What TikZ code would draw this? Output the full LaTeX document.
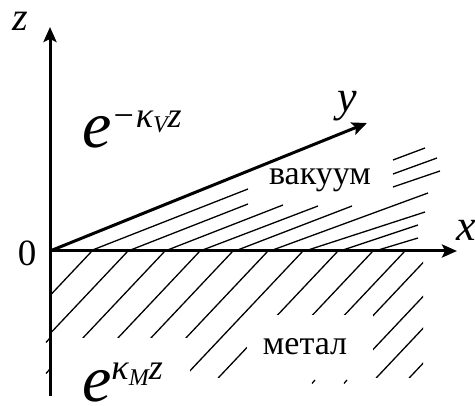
\documentclass[tikz,border=0pt]{standalone}
\usepackage{fontspec}
\setmainfont{Liberation Serif}
\usetikzlibrary{arrows.meta}
\begin{document}
\begin{tikzpicture}[x=1pt,y=-1pt,
  axis/.style={line width=3pt,-{Stealth[length=15pt,width=13pt,inset=3pt]}},
  hatch/.style={line width=1.3pt},
  lbl/.style={inner sep=0pt,font=\fontsize{34}{34}\selectfont},
  ilbl/.style={inner sep=0pt,font=\fontsize{44}{44}\selectfont\itshape}]
\useasboundingbox (0,0) rectangle (475,406);
% lower hatching (metal)
\begin{scope}
  \clip (50,251) rectangle (423,378);
  \foreach \a in {92,128,165,200,233,268,303,338,373,405,434,466,496,529}
    \draw[hatch] (\a,251) -- ++(-170,180.2);
\end{scope}
\fill[white] (51.5,338) rectangle (190,406);
\fill[white] (247,315) rectangle (373,378.5);
\draw[hatch] (50,338) -- (46,342.5);
\draw[hatch] (50,369) -- (46,373.5);
\draw[hatch] (315,380) -- (312,383.5);
\draw[hatch] (347,380) -- (344,383.5);
% upper hatching (vacuum)
\draw[hatch] (90,251) -- (248,189);
\draw[hatch] (128,251) -- (248,204);
\draw[hatch] (165,251) -- (283,205);
\draw[hatch] (393,160) -- (425,148);
\draw[hatch] (200,251) -- (318,206);
\draw[hatch] (393,174) -- (437,158);
\draw[hatch] (235,251) -- (352,206);
\draw[hatch] (393,187) -- (440,171);
\draw[hatch] (270,251) -- (428,193);
\draw[hatch] (305,251) -- (425,212);
\draw[hatch] (340,251) -- (418,225);
\draw[hatch] (375,251) -- (418,238);
% axes
\coordinate (O) at (50,251);
\coordinate (zb) at (50,396);
\coordinate (zt) at (50,27);
\coordinate (xt) at (457,251);
\coordinate (yt) at (367,123);
\draw[axis] (zb) -- (zt);
\draw[axis] (O) -- (xt);
\draw[axis] (O) -- (yt);
% labels
\node[ilbl,font=\fontsize{40}{40}\selectfont\itshape] (zl) at (20,21) {z};
\node[ilbl] (yl) at (347,106) {y};
\node[ilbl] (xl) at (466,230) {x};
\node[lbl,font=\fontsize{37}{37}\selectfont] (zero) at (27,253.5) {0};
\node[lbl] (vac) at (320,180) {вакуум};
\node[lbl] (met) at (305,347) {метал};
\node[anchor=base west,inner sep=0pt] (ev) at (82,148)
  {\fontsize{66}{66}\selectfont\itshape e\raisebox{20pt}{\fontsize{36}{36}\selectfont −κ\raisebox{-5pt}{\fontsize{24}{24}\selectfont V}z}};
\node[anchor=base west,inner sep=0pt] (em) at (82,402)
  {\fontsize{66}{66}\selectfont\itshape e\raisebox{22pt}{\fontsize{36}{36}\selectfont κ\raisebox{-6pt}{\fontsize{24}{24}\selectfont M}z}};
\end{tikzpicture}
\end{document}
